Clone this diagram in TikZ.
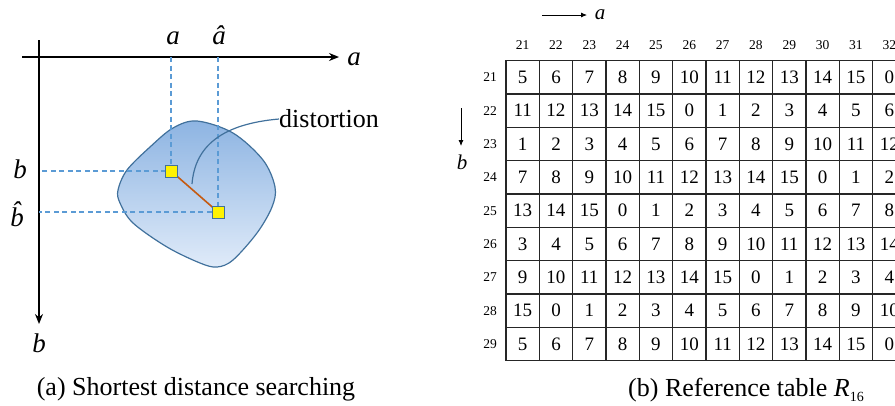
\documentclass[tikz,border=0pt]{standalone}
\usepackage{fontspec}
\setmainfont{Liberation Serif}
\usetikzlibrary{arrows.meta,positioning,calc}
\definecolor{blobedge}{RGB}{65,113,156}
\definecolor{blobtop}{RGB}{141,180,226}
\definecolor{blobbot}{RGB}{224,235,249}
\definecolor{guide}{RGB}{91,155,213}
\definecolor{link}{RGB}{197,90,17}

\begin{document}
\begin{tikzpicture}[x=1pt,y=-1pt, every node/.style={font=\fontsize{26}{30}\selectfont,inner sep=1pt},
  axis/.style={line width=1.5pt,-{Stealth[length=10pt,width=8pt]}},
  guideline/.style={guide,line width=1.3pt,dash pattern=on 5pt off 3.5pt},
  marker/.style={draw=blobedge,fill=yellow,line width=1pt,minimum size=12pt,inner sep=0pt},
  var/.style={font=\fontsize{27}{30}\selectfont\itshape,anchor=base},
  cell/.style={draw=black!85,line width=1.3pt,minimum width=33.33pt,minimum height=33.33pt,inner sep=0pt,font=\fontsize{19}{20}\selectfont},
  idx/.style={font=\fontsize{13.5}{14}\selectfont},
  captext/.style={font=\fontsize{26}{30}\selectfont,anchor=base}]
\clip (0,0) rectangle (895,405);

% (a) shortest distance searching
\coordinate (ha0) at (22,57);
\coordinate (ha1) at (339,57);
\coordinate (va0) at (39,40);
\coordinate (va1) at (39,324);
\draw[axis] (ha0) -- (ha1);
\draw[axis] (va0) -- (va1);
\node[var] (axa) at (354,65) {a};
\node[var] (axb) at (39,352) {b};

\draw[blobedge,line width=1.2pt,top color=blobtop,bottom color=blobbot]
  plot[smooth cycle,tension=0.55] coordinates {(197,121) (233,133) (263,160) (275,187) (272,207) (257,233) (233,260) (217,267) (200,263) (167,247) (133,223) (120,203) (118,190) (127,170) (150,147) (173,128)};

\coordinate (pA) at (171,171);
\coordinate (pB) at (218,212);
\coordinate (ta) at (171,57);
\coordinate (tah) at (218,57);
\coordinate (lb) at (39,171);
\coordinate (lbh) at (39,212);
\draw[guideline] (ta) -- (pA) -- (lb);
\draw[guideline] (tah) -- (pB) -- (lbh);
\draw[link,line width=1.6pt] (pA) -- (pB);
\node[marker] (sqA) at (pA) {};
\node[marker] (sqB) at (pB) {};

\node[var] (lbla) at (173,44) {a};
\node[var] (lblah) at (219,44) {\^{a}};
\node[var] (lblb) at (20,178) {b};
\node[var] (lblbh) at (17,226) {\^{b}};

\coordinate (dtip) at (192,184);
\node[anchor=west,inner sep=0pt] (dist) at (279,119) {distortion};
\draw[blobedge,line width=1.2pt] (dtip) .. controls (195,146) and (222,124) .. (dist.west);

\node[captext] (capa) at (196,395) {(a) Shortest distance searching};

% (b) reference table
\coordinate (ra0) at (542,15);
\coordinate (ra1) at (587,15);
\draw[line width=0.8pt,-{Latex[length=6pt,width=5pt]}] (ra0) -- (ra1);
\node[var,font=\fontsize{21}{24}\selectfont\itshape] (taba) at (600,19) {a};
\coordinate (rb0) at (461,108);
\coordinate (rb1) at (461,146);
\draw[line width=0.8pt,-{Latex[length=6pt,width=5pt]}] (rb0) -- (rb1);
\node[var,font=\fontsize{21}{24}\selectfont\itshape] (tabb) at (462,169) {b};

\foreach \c [count=\i] in {21,...,32}
  \node[idx] (col\i) at ({506+33.33*(\i-0.5)},45) {\c};
\foreach \r [count=\j] in {21,...,29}
  \node[idx] (row\j) at (490,{60.7+33.33*(\j-0.5)}) {\r};

\foreach \vals [count=\j] in {
  {5,6,7,8,9,10,11,12,13,14,15,0},
  {11,12,13,14,15,0,1,2,3,4,5,6},
  {1,2,3,4,5,6,7,8,9,10,11,12},
  {7,8,9,10,11,12,13,14,15,0,1,2},
  {13,14,15,0,1,2,3,4,5,6,7,8},
  {3,4,5,6,7,8,9,10,11,12,13,14},
  {9,10,11,12,13,14,15,0,1,2,3,4},
  {15,0,1,2,3,4,5,6,7,8,9,10},
  {5,6,7,8,9,10,11,12,13,14,15,0}}
  \foreach \v [count=\i] in \vals
    \node[cell] (c\j-\i) at ({506+33.33*(\i-0.5)},{60.7+33.33*(\j-0.5)}) {\v};

\node[captext] (capb) at (746,396) {(b) Reference table {\itshape R}\raisebox{-5pt}{\fontsize{14}{14}\selectfont 16}};
\end{tikzpicture}
\end{document}
